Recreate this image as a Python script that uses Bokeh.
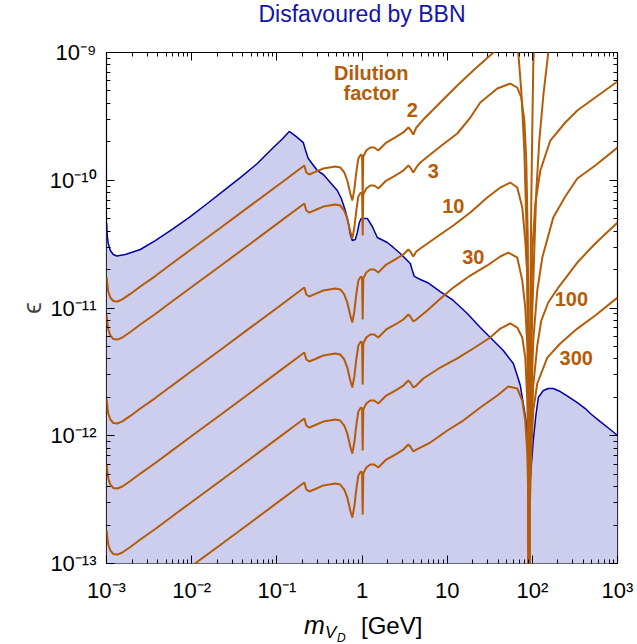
from bokeh.plotting import figure
from bokeh.layouts import column
from bokeh.models import LogAxis, FixedTicker, Label, CustomJSTickFormatter, Div
from bokeh.embed import file_html
from bokeh.resources import INLINE

# ---------------- data (log10 of mass in GeV, log10 of epsilon) ----------------
# BBN-disfavoured boundary
log_m_bbn = [-2.999, -2.990, -2.979, -2.955, -2.920, -2.879, -2.779, -2.603, -2.427, -2.216,
             -2.016, -1.816, -1.605, -1.429, -1.229, -1.041, -0.936, -0.854, -0.771, -0.689,
             -0.666, -0.631, -0.525, -0.454, -0.290, -0.243, -0.196, -0.161, -0.137, -0.114,
             -0.079, -0.055, -0.032, -0.008, 0.062, 0.121, 0.180, 0.297, 0.368, 0.450,
             0.567, 0.591, 0.614, 0.685, 0.767, 0.919, 1.072, 1.236, 1.389, 1.542,
             1.659, 1.777, 1.823, 1.859, 1.894, 1.929, 1.947, 1.956, 1.960, 1.964,
             1.976, 1.988, 2.011, 2.041, 2.070, 2.129, 2.187, 2.246, 2.328, 2.422,
             2.528, 2.622, 2.681, 2.798, 2.915, 3.000]
log_eps_bbn = [-10.331, -10.440, -10.495, -10.550, -10.581, -10.593, -10.581, -10.542, -10.472, -10.378,
               -10.284, -10.182, -10.072, -9.979, -9.869, -9.744, -9.677, -9.618, -9.658, -9.705,
               -9.759, -9.830, -9.924, -9.955, -10.080, -10.143, -10.237, -10.331, -10.425, -10.472,
               -10.464, -10.409, -10.331, -10.299, -10.299, -10.362, -10.448, -10.487, -10.526, -10.573,
               -10.652, -10.707, -10.753, -10.777, -10.800, -10.871, -10.941, -11.043, -11.153, -11.254,
               -11.333, -11.435, -11.528, -11.607, -11.748, -11.896, -12.092, -12.507, -14.000, -12.507,
               -12.350, -12.233, -12.037, -11.842, -11.701, -11.646, -11.630, -11.630, -11.654, -11.693,
               -11.740, -11.787, -11.826, -11.889, -11.951, -11.998]

# dilution-factor curves, common low-mass grid
log_m_low = [-2.998, -2.990, -2.979, -2.955, -2.920, -2.873, -2.814, -2.720, -2.603, -2.427,
             -2.251, -2.016, -1.664, -1.311, -0.959, -0.724, -0.677, -0.654, -0.619, -0.548,
             -0.454, -0.313, -0.255, -0.208, -0.173, -0.137, -0.114, -0.090, -0.067, -0.043,
             -0.014, 0.001, 0.008, 0.015, 0.050, 0.097, 0.144, 0.191, 0.238, 0.285,
             0.391, 0.485, 0.544, 0.567, 0.602]

log_eps_low_2 = [-10.761, -10.816, -10.871, -10.918, -10.945, -10.949, -10.933, -10.890, -10.832, -10.750,
                 -10.662, -10.546, -10.374, -10.199, -10.025, -9.908, -9.885, -9.939, -9.955, -9.935,
                 -9.908, -9.892, -9.900, -9.939, -10.002, -10.104, -10.159, -10.072, -9.939, -9.830,
                 -9.798, -9.806, -10.135, -9.814, -9.767, -9.744, -9.744, -9.767, -9.736, -9.705,
                 -9.665, -9.626, -9.587, -9.603, -9.642]
log_eps_low_3 = [-11.059, -11.114, -11.168, -11.215, -11.243, -11.247, -11.231, -11.188, -11.129, -11.047,
                 -10.959, -10.843, -10.671, -10.497, -10.322, -10.206, -10.182, -10.237, -10.253, -10.233,
                 -10.206, -10.190, -10.198, -10.237, -10.299, -10.401, -10.456, -10.370, -10.237, -10.127,
                 -10.096, -10.104, -10.433, -10.112, -10.065, -10.041, -10.041, -10.065, -10.033, -10.002,
                 -9.963, -9.924, -9.885, -9.900, -9.939]
log_eps_low_10 = [-11.716, -11.771, -11.826, -11.873, -11.900, -11.904, -11.888, -11.845, -11.787, -11.705,
                  -11.617, -11.501, -11.329, -11.154, -10.980, -10.863, -10.840, -10.894, -10.910, -10.890,
                  -10.863, -10.847, -10.855, -10.894, -10.957, -11.059, -11.114, -11.027, -10.894, -10.785,
                  -10.753, -10.761, -11.090, -10.769, -10.722, -10.699, -10.699, -10.722, -10.691, -10.660,
                  -10.620, -10.581, -10.542, -10.558, -10.597]
log_eps_low_30 = [-12.225, -12.280, -12.335, -12.382, -12.409, -12.413, -12.397, -12.354, -12.296, -12.213,
                  -12.126, -12.010, -11.838, -11.663, -11.488, -11.372, -11.348, -11.403, -11.419, -11.399,
                  -11.372, -11.356, -11.364, -11.403, -11.466, -11.568, -11.622, -11.536, -11.403, -11.294,
                  -11.262, -11.270, -11.599, -11.278, -11.231, -11.207, -11.207, -11.231, -11.200, -11.168,
                  -11.129, -11.090, -11.051, -11.067, -11.106]
log_eps_low_100 = [-12.742, -12.797, -12.851, -12.898, -12.926, -12.930, -12.914, -12.871, -12.812, -12.730,
                   -12.642, -12.526, -12.354, -12.180, -12.005, -11.889, -11.865, -11.920, -11.936, -11.916,
                   -11.889, -11.873, -11.881, -11.920, -11.982, -12.084, -12.139, -12.053, -11.920, -11.810,
                   -11.779, -11.787, -12.116, -11.795, -11.748, -11.724, -11.724, -11.748, -11.716, -11.685,
                   -11.646, -11.607, -11.568, -11.583, -11.622]
log_eps_low_300 = [-13.243, -13.297, -13.352, -13.399, -13.427, -13.431, -13.415, -13.372, -13.313, -13.231,
                   -13.143, -13.027, -12.855, -12.681, -12.506, -12.389, -12.366, -12.421, -12.436, -12.417,
                   -12.389, -12.374, -12.382, -12.421, -12.483, -12.585, -12.640, -12.554, -12.421, -12.311,
                   -12.280, -12.288, -12.616, -12.295, -12.249, -12.225, -12.225, -12.249, -12.217, -12.186,
                   -12.147, -12.108, -12.068, -12.084, -12.123]

# high-mass parts (through the Z pole)
log_m_hi_2 = [0.638, 0.720, 0.919, 1.119, 1.319, 1.530, 1.624, 1.683, 1.765, 1.835,
              1.870, 1.906, 1.929, 1.947, 1.955, 1.960, 1.964, 1.976, 1.988, 2.000, 2.011, 2.023]
log_eps_hi_2 = [-9.587, -9.525, -9.391, -9.258, -9.133, -9.008, -8.937, -8.890, -8.906, -9.000,
                -9.298, -9.767, -10.315, -11.098, -12.116, -14.000, -12.116, -10.941, -10.159, -9.571, -9.102, -8.906]

log_m_hi_3 = [0.638, 0.685, 0.802, 0.919, 1.119, 1.272, 1.389, 1.589, 1.741, 1.823,
              1.870, 1.906, 1.929, 1.947, 1.955, 1.960, 1.964, 1.982, 2.000, 2.023,
              2.047, 2.082, 2.129, 2.187, 2.234]
log_eps_hi_3 = [-9.900, -9.861, -9.798, -9.736, -9.634, -9.509, -9.391, -9.282, -9.243, -9.274,
                -9.352, -9.532, -9.845, -10.472, -11.568, -14.000, -12.194, -11.568, -11.020, -10.550,
                -10.080, -9.689, -9.337, -9.000, -8.867]

log_m_hi_10 = [0.638, 0.685, 0.919, 1.072, 1.272, 1.471, 1.624, 1.741, 1.823, 1.882,
               1.917, 1.941, 1.955, 1.960, 1.964, 1.976, 2.000, 2.035, 2.094, 2.211,
               2.387, 2.528, 2.739, 3.000]
log_eps_hi_10 = [-10.558, -10.534, -10.425, -10.354, -10.252, -10.135, -10.057, -10.018, -10.057, -10.213,
                 -10.472, -10.746, -11.724, -14.000, -12.272, -11.333, -10.550, -10.182, -9.924, -9.689,
                 -9.548, -9.454, -9.352, -9.227]

log_m_hi_30 = [0.638, 0.767, 0.896, 1.072, 1.272, 1.471, 1.624, 1.718, 1.823, 1.882,
               1.917, 1.941, 1.955, 1.960, 1.970, 1.988, 2.011, 2.058, 2.117, 2.246,
               2.387, 2.528, 2.739, 3.000]
log_eps_hi_30 = [-11.090, -11.020, -10.941, -10.840, -10.746, -10.667, -10.597, -10.566, -10.605, -10.785,
                 -10.996, -11.294, -12.116, -14.000, -12.350, -11.724, -11.254, -10.863, -10.605, -10.292,
                 -10.127, -9.986, -9.885, -9.744]

log_m_hi_100 = [0.638, 0.720, 0.919, 1.119, 1.307, 1.506, 1.624, 1.741, 1.823, 1.882,
                1.917, 1.941, 1.953, 1.960, 1.970, 1.988, 2.011, 2.058, 2.105, 2.187,
                2.305, 2.528, 2.739, 3.000]
log_eps_hi_100 = [-11.607, -11.552, -11.466, -11.395, -11.317, -11.231, -11.161, -11.121, -11.153, -11.231,
                  -11.388, -11.724, -12.194, -14.000, -12.350, -11.959, -11.607, -11.294, -11.098, -10.957,
                  -10.840, -10.644, -10.495, -10.331]

log_m_hi_300 = [0.638, 0.802, 1.002, 1.189, 1.389, 1.589, 1.718, 1.823, 1.882, 1.917,
                1.941, 1.953, 1.960, 1.970, 1.988, 2.011, 2.058, 2.176, 2.328, 2.528,
                2.739, 3.000]
log_eps_hi_300 = [-12.108, -12.053, -11.959, -11.881, -11.779, -11.685, -11.615, -11.630, -11.724, -11.881,
                  -12.139, -12.507, -14.000, -12.585, -12.116, -11.802, -11.591, -11.388, -11.278, -11.161,
                  -11.059, -10.918]

dilution_labels = ["2", "3", "10", "30", "100", "300"]
label_m = [3.90, 6.88, 11.8, 20.3, 287.0, 328.0]
label_eps = [3.52e-10, 1.19e-10, 6.34e-11, 2.53e-11, 1.186e-11, 4.03e-12]

x_major = [1e-3, 1e-2, 1e-1, 1.0, 10.0, 100.0, 1000.0]
y_major = [1e-13, 1e-12, 1e-11, 1e-10, 1e-9]

# ---------------- styling ----------------
ORANGE = "#b45c08"
BLUE = "#0000a8"
FILL = "#cdcdee"
FONT = "Liberation Sans"
W = 637


def pw(a):
    return [10.0 ** v for v in a]


x_minor = [d * x for x in x_major[:-1] for d in range(2, 10)]
y_minor = [d * y for y in y_major[:-1] for d in range(2, 10)]

# title (HTML text)
title_div = Div(
    text=('<div style="position:relative;width:637px;height:28px;font-family:\'Liberation Sans\';">'
          '<span style="position:absolute;left:362px;top:3px;transform:translateX(-50%);'
          'font-size:23px;line-height:23px;color:#1414a8;white-space:nowrap;">Disfavoured by BBN</span></div>'),
    width=W, height=28, margin=0)

p = figure(width=W, height=579, x_axis_type="log", y_axis_type="log",
           x_range=(1e-3, 1e3), y_range=(1e-13, 1e-9),
           output_backend="svg", toolbar_location=None,
           min_border_left=106, min_border_right=20, min_border_top=24, min_border_bottom=44)

p.xgrid.grid_line_color = None
p.ygrid.grid_line_color = None
p.outline_line_color = "black"
p.outline_line_width = 1.2
p.background_fill_color = "white"
p.border_fill_color = "white"

fmt_code = """
const e = Math.round(Math.log10(tick));
const sup = {"-":"\u207b","0":"\u2070","1":"\u00b9","2":"\u00b2","3":"\u00b3","4":"\u2074",
             "5":"\u2075","6":"\u2076","7":"\u2077","8":"\u2078","9":"\u2079"};
if (e == 0) return "1";
if (e == 1) return "10";
return "10" + String(e).split("").map(c => sup[c]).join("");
"""

for ax, majors, minors in ((p.xaxis[0], x_major, x_minor), (p.yaxis[0], y_major, y_minor)):
    ax.ticker = FixedTicker(ticks=majors, minor_ticks=minors)
    ax.formatter = CustomJSTickFormatter(code=fmt_code)
    ax.major_tick_in = 8
    ax.major_tick_out = 0
    ax.minor_tick_in = 4
    ax.minor_tick_out = 0
    ax.axis_line_color = None
    ax.major_tick_line_color = "black"
    ax.minor_tick_line_color = "black"
    ax.major_label_text_font = FONT
    ax.major_label_text_font_size = "22px"
    ax.major_label_text_color = "black"

p.xaxis.major_label_standoff = 14
p.yaxis.major_label_standoff = 10
p.yaxis.axis_label = "\u03f5"
p.yaxis.axis_label_text_font = FONT
p.yaxis.axis_label_text_font_size = "26px"
p.yaxis.axis_label_text_font_style = "normal"
p.yaxis.axis_label_standoff = 0

top = LogAxis(ticker=FixedTicker(ticks=x_major, minor_ticks=x_minor),
              major_label_text_font_size="2px", major_label_text_alpha=0.0, axis_line_color=None,
              major_tick_in=8, major_tick_out=0, minor_tick_in=4, minor_tick_out=0,
              major_label_standoff=0)
right = LogAxis(ticker=FixedTicker(ticks=y_major, minor_ticks=y_minor),
                major_label_text_font_size="2px", major_label_text_alpha=0.0, axis_line_color=None,
                major_tick_in=8, major_tick_out=0, minor_tick_in=4, minor_tick_out=0,
                major_label_standoff=0)
p.add_layout(top, "above")
p.add_layout(right, "right")

# BBN region
m_bbn = pw(log_m_bbn)
e_bbn = pw(log_eps_bbn)
p.varea(x=m_bbn, y1=[1e-14] * len(m_bbn), y2=e_bbn, fill_color=FILL)
p.line(m_bbn, e_bbn, line_color=BLUE, line_width=1.5)

# dilution curves
curves = [
    (log_eps_low_2, log_m_hi_2, log_eps_hi_2),
    (log_eps_low_3, log_m_hi_3, log_eps_hi_3),
    (log_eps_low_10, log_m_hi_10, log_eps_hi_10),
    (log_eps_low_30, log_m_hi_30, log_eps_hi_30),
    (log_eps_low_100, log_m_hi_100, log_eps_hi_100),
    (log_eps_low_300, log_m_hi_300, log_eps_hi_300),
]
for low, mh, eh in curves:
    xs = pw(log_m_low + mh)
    ys = pw(low + eh)
    p.line(xs, ys, line_color=ORANGE, line_width=2)

# labels inside the frame
p.add_layout(Label(x=1.285, y=6.97e-10, text="Dilution", text_align="center", text_baseline="middle",
                   text_font=FONT, text_font_size="20px", text_font_style="bold", text_color=ORANGE))
p.add_layout(Label(x=1.285, y=4.78e-10, text="factor", text_align="center", text_baseline="middle",
                   text_font=FONT, text_font_size="20px", text_font_style="bold", text_color=ORANGE))
for txt, xm, ye in zip(dilution_labels, label_m, label_eps):
    p.add_layout(Label(x=xm, y=ye, text=txt, text_align="center", text_baseline="middle",
                       text_font=FONT, text_font_size="20px", text_font_style="bold", text_color=ORANGE))

# x-axis label (HTML text): m_{V_D} [GeV]
xlabel_div = Div(
    text=('<div style="position:relative;width:637px;height:37px;font-family:\'Liberation Sans\';color:black;">'
          '<span style="position:absolute;left:304px;top:6px;font-size:25px;line-height:25px;font-style:italic;">m</span>'
          '<span style="position:absolute;left:325px;top:17px;font-size:17px;line-height:17px;font-style:italic;">V</span>'
          '<span style="position:absolute;left:337px;top:25px;font-size:12px;line-height:12px;font-style:italic;">D</span>'
          '<span style="position:absolute;left:361px;top:7px;font-size:24px;line-height:24px;white-space:nowrap;">[GeV]</span>'
          '</div>'),
    width=W, height=37, margin=0)

layout = column(title_div, p, xlabel_div, spacing=0)
open("out.html", "w").write(file_html(layout, INLINE))
